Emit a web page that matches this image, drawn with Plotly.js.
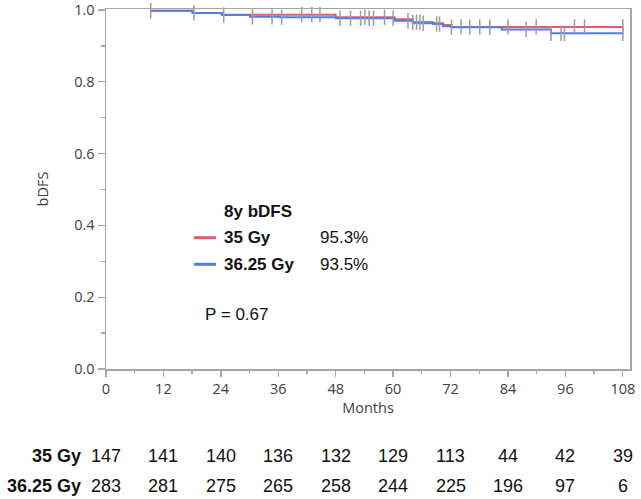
<!DOCTYPE html>
<html>
<head>
<meta charset="utf-8">
<script src="https://cdn.plot.ly/plotly-3.0.1.min.js"></script>
<style>html,body{margin:0;padding:0;background:#fff;}#chart{width:641px;height:499px;}</style>
</head>
<body>
<div id="chart"></div>
<script>
// Kaplan-Meier step data (months, survival)
const red35Times = [9.2, 18.1, 24.2, 48.0, 60.3, 64.1, 70.4, 72.2, 108.0];
const red35Surv  = [0.998, 0.992, 0.987, 0.980, 0.974, 0.963, 0.958, 0.953, 0.953];
const blue3625Times = [9.2, 18.1, 24.2, 30.1, 36.3, 48.0, 60.3, 64.1, 68.3, 70.4, 72.2, 82.7, 93.0, 108.0];
const blue3625Surv  = [0.998, 0.992, 0.986, 0.981, 0.980, 0.977, 0.970, 0.966, 0.961, 0.955, 0.952, 0.946, 0.935, 0.935];
// censor marks (months)
const censor35 = [40.9, 43.0, 44.7, 54.1, 58.2, 66.3, 74.2, 78.1, 84.0, 89.9, 97.9, 100.0, 108.0];
const censor3625 = [9.35, 18.4, 24.6, 30.6, 34.7, 36.7, 48.9, 51.1, 53.2, 55.0, 55.9, 60.0, 63.1, 64.1, 64.9, 65.6, 69.1, 69.7, 72.2, 76.0, 80.2, 87.8, 93.0, 95.1, 95.8, 108.0];
// number at risk
const riskTimes = [0, 12, 24, 36, 48, 60, 72, 84, 96, 108];
const risk35 = [147, 141, 140, 136, 132, 129, 113, 44, 42, 39];
const risk3625 = [283, 281, 275, 265, 258, 244, 225, 196, 97, 6];
const groupNames = ['35 Gy', '36.25 Gy'];
const bdfs8y = ['95.3%', '93.5%'];
const pText = 'P = 0.67';

function stepAt(times, surv, t) {
  let v = surv[0];
  for (let i = 0; i < times.length; i++) { if (times[i] <= t) v = surv[i]; }
  return v;
}

const RED = '#e35a6c', BLUE = '#4f7fe3', GRAY = '#9c9c9c';

const traces = [
  {x: red35Times, y: red35Surv, mode: 'lines', line: {shape: 'hv', color: RED, width: 2}, hoverinfo: 'skip', cliponaxis: false},
  {x: blue3625Times, y: blue3625Surv, mode: 'lines', line: {shape: 'hv', color: BLUE, width: 2}, hoverinfo: 'skip', cliponaxis: false},
  {x: censor35, y: censor35.map(t => stepAt(red35Times, red35Surv, t)), mode: 'markers',
   marker: {symbol: 'line-ns-open', size: 11, color: GRAY, line: {color: GRAY, width: 1.5}}, cliponaxis: false, hoverinfo: 'skip'},
  {x: censor3625, y: censor3625.map(t => stepAt(blue3625Times, blue3625Surv, t)), mode: 'markers',
   marker: {symbol: 'line-ns-open', size: 11, color: GRAY, line: {color: GRAY, width: 1.5}}, cliponaxis: false, hoverinfo: 'skip'}
];

const L = 106, R = 630, T = 9, B = 369, W = 641, H = 499;
const px = x => (x - L) / (R - L);
const py = y => (B - y) / (B - T);

const ann = [];
const tf = "Liberation Sans, Arial, sans-serif";
ann.push({xref: 'paper', yref: 'paper', x: px(222), y: py(211), xanchor: 'left', yanchor: 'middle', showarrow: false,
  text: '<b>8y bDFS</b>', font: {family: tf, size: 17, color: '#111'}});
[237.5, 264].forEach((yy, i) => {
  ann.push({xref: 'paper', yref: 'paper', x: px(222), y: py(yy), xanchor: 'left', yanchor: 'middle', showarrow: false,
    text: '<b>' + groupNames[i] + '</b>', font: {family: tf, size: 17, color: '#111'}});
  ann.push({xref: 'paper', yref: 'paper', x: px(318), y: py(yy), xanchor: 'left', yanchor: 'middle', showarrow: false,
    text: bdfs8y[i], font: {family: tf, size: 17, color: '#111'}});
});
ann.push({xref: 'paper', yref: 'paper', x: px(203), y: py(314), xanchor: 'left', yanchor: 'middle', showarrow: false,
  text: pText, font: {family: tf, size: 17, color: '#111'}});

const rowY = [456, 485.5];
[risk35, risk3625].forEach((arr, i) => {
  ann.push({xref: 'paper', yref: 'paper', x: px(83), y: py(rowY[i]), xanchor: 'right', yanchor: 'middle', showarrow: false,
    text: '<b>' + groupNames[i] + '</b>', font: {family: tf, size: 18, color: '#111'}});
  arr.forEach((n, j) => {
    ann.push({xref: 'x', yref: 'paper', x: riskTimes[j], y: py(rowY[i]), xanchor: 'center', yanchor: 'middle', showarrow: false,
      text: String(n), font: {family: tf, size: 18, color: '#111'}});
  });
});

const shapes = [
  {type: 'line', xref: 'paper', yref: 'paper', x0: px(194), x1: px(216), y0: py(237.7), y1: py(237.7), line: {color: RED, width: 3}},
  {type: 'line', xref: 'paper', yref: 'paper', x0: px(194), x1: px(216), y0: py(264.3), y1: py(264.3), line: {color: BLUE, width: 3}}
];

const af = {family: "Open Sans, sans-serif", size: 14.5, color: '#404040'};
const layout = {
  width: W, height: H,
  margin: {l: L, r: W - R, t: T, b: H - B, pad: 0},
  paper_bgcolor: '#fff', plot_bgcolor: '#fff',
  showlegend: false,
  xaxis: {range: [0, 109.5], tickvals: riskTimes, ticktext: riskTimes.map(String), ticks: 'outside', ticklen: 6,
    tickcolor: '#a6a6a6', tickwidth: 1.3, showline: true, linecolor: '#a6a6a6', linewidth: 1.5, mirror: true,
    showgrid: false, zeroline: false, tickfont: af, ticklabeloverflow: 'allow',
    minor: {tickvals: [6, 18, 30, 42, 54, 66, 78, 90, 102], ticks: 'outside', ticklen: 3, tickcolor: '#a6a6a6', showgrid: false},
    title: {text: 'Months', font: af, standoff: 3}},
  yaxis: {range: [0, 1.0028], tickvals: [0, 0.2, 0.4, 0.6, 0.8, 1.0], ticktext: ['0.0', '0.2', '0.4', '0.6', '0.8', '1.0'],
    ticks: 'outside', ticklen: 7, tickcolor: '#a6a6a6', tickwidth: 1.3, showline: true, linecolor: '#a6a6a6', linewidth: 1.5,
    mirror: true, showgrid: false, zeroline: false, tickfont: af, ticklabeloverflow: 'allow',
    minor: {tickvals: [0.1, 0.3, 0.5, 0.7, 0.9], ticks: 'outside', ticklen: 4, tickcolor: '#a6a6a6', showgrid: false},
    title: {text: 'bDFS', font: af, standoff: 22}},
  annotations: ann,
  shapes: shapes
};

Plotly.newPlot('chart', traces, layout, {displayModeBar: false, staticPlot: true});
</script>
</body>
</html>
